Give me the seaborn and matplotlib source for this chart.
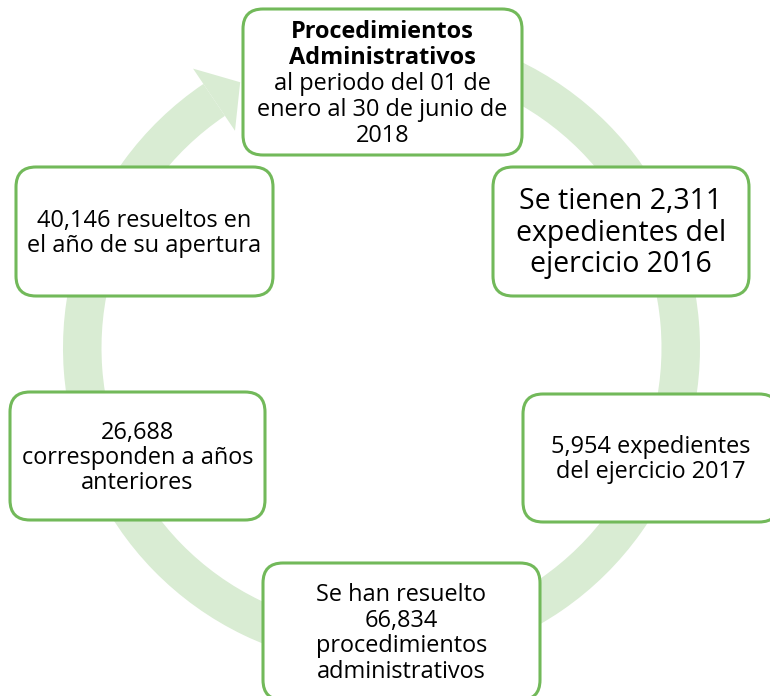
import matplotlib.pyplot as plt
import numpy as np
import seaborn as sns
from matplotlib.patches import Wedge, Polygon, FancyBboxPatch

sns.set_theme(style="white")
plt.rcParams['font.family'] = ['Open Sans', 'DejaVu Sans']

# Textos de las cajas, en el orden del ciclo
titulo = ["Procedimientos", "Administrativos"]
periodo = ["al periodo del 01 de", "enero al 30 de junio de", "2018"]
exp_2016 = ["Se tienen 2,311", "expedientes del", "ejercicio 2016"]
exp_2017 = ["5,954 expedientes", "del ejercicio 2017"]
resueltos = ["Se han resuelto", "66,834", "procedimientos", "administrativos"]
anteriores = ["26,688", "corresponden a años", "anteriores"]
apertura = ["40,146 resueltos en", "el año de su apertura"]

# Colores
verde_borde = "#72b95a"
verde_anillo = "#d9ecd3"

# Geometría del ciclo (en píxeles de la figura)
W, H = 770, 696
cx, cy = 381.5, 348
r_ext, ancho = 318.5, 38.5

fig = plt.figure(figsize=(W / 100, H / 100), dpi=100)
ax = fig.add_axes([0, 0, 1, 1])
ax.set_xlim(0, W)
ax.set_ylim(H, 0)
ax.set_aspect("equal")
ax.axis("off")

# Anillo con flecha
ang_fin = 236
ax.add_patch(Wedge((cx, cy), r_ext, -85, ang_fin, width=ancho,
                   facecolor=verde_anillo, edgecolor="none", zorder=1))


def polar(r, ang):
    a = np.deg2rad(ang)
    return (cx + r * np.cos(a), cy + r * np.sin(a))


cabeza = [polar(337, ang_fin), polar(262, ang_fin), polar(301, 242)]
ax.add_patch(Polygon(cabeza, closed=True, facecolor=verde_anillo,
                     edgecolor="none", zorder=1))

# Cajas: (x0, y0, x1, y1), líneas, negritas, tamaño px, interlineado px
cajas = [
    ((243, 9, 522, 155), titulo + periodo, [True, True, False, False, False], 23.5, 26),
    ((493, 167, 749, 296), exp_2016, None, 28.5, 31.5),
    ((523, 394, 779, 522), exp_2017, None, 23.5, 25),
    ((263, 563, 540, 700), resueltos, None, 23.5, 25.5),
    ((10, 392, 265, 520), anteriores, None, 23.5, 25),
    ((16, 167, 273, 296), apertura, None, 23.5, 25),
]

for (x0, y0, x1, y1), lineas, negritas, fpx, esp in cajas:
    ax.add_patch(FancyBboxPatch((x0, y0), x1 - x0, y1 - y0,
                                boxstyle="round,pad=0,rounding_size=20",
                                facecolor="white", edgecolor=verde_borde,
                                linewidth=2.2, zorder=2))
    xc, yc = (x0 + x1) / 2, (y0 + y1) / 2
    n = len(lineas)
    for i, txt in enumerate(lineas):
        peso = "bold" if negritas and negritas[i] else "normal"
        yb = yc + 0.33 * fpx + (i - (n - 1) / 2) * esp
        ax.text(xc, yb, txt, ha="center", va="baseline",
                fontsize=fpx * 0.72, fontweight=peso, color="black", zorder=3)

fig.savefig("out.png", dpi=100)
plt.close(fig)
